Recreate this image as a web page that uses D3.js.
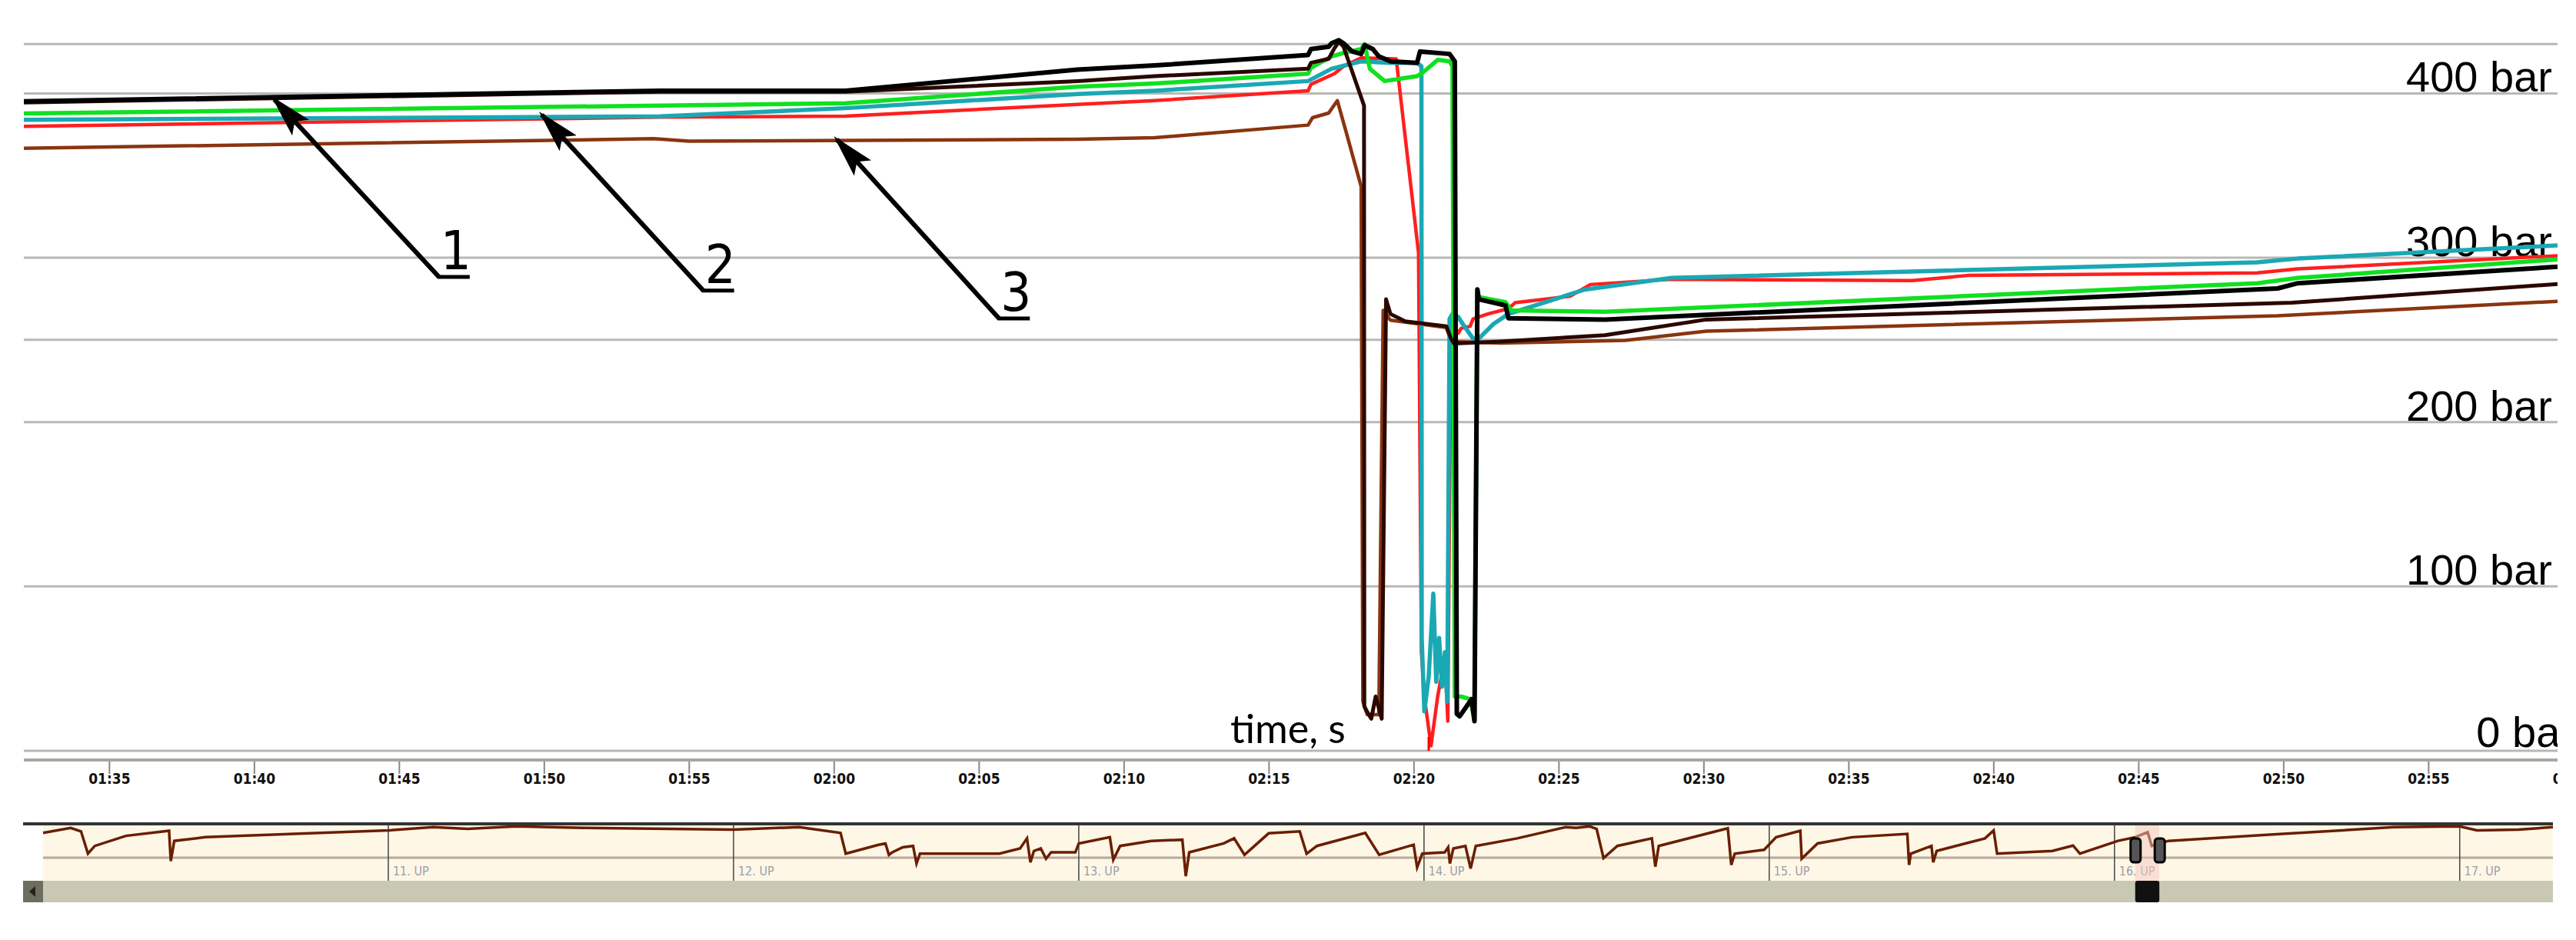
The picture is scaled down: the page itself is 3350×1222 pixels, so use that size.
<!DOCTYPE html>
<html>
<head>
<meta charset="utf-8">
<script src="https://cdn.jsdelivr.net/npm/d3@7"></script>
<style>
  body { margin: 0; background: #fff; }
  svg { display: block; }
</style>
</head>
<body>
<div class="plot"></div>
<script>
// GLOBAL VARIABLES
var w = 3350;
var h = 1222;

// pressure series, [minute, bar]
var seriesBlack = [[92.06,395.2],[114,401.6],[120.4,401.6],[128.4,414.5],[131.07,417],[136.36,423.4],[136.46,427],[137.07,428.4],[137.17,430.5],[137.42,432.3],[137.58,430.5],[137.88,425.5],[138.19,424],[138.31,429.3],[138.59,427],[138.8,422.5],[139.2,419.5],[140.12,418.6],[140.22,425.5],[141.24,424],[141.42,419.5],[141.49,22.5],[141.59,21],[142.0,31.4],[142.1,18],[142.2,280.7],[142.25,274.7],[143.17,271],[143.27,263.2],[146.6,262.4],[169.8,281.3],[170.5,284.5],[179.46,294.5]];
var seriesDark = [[92.06,394.5],[114,401],[120.4,401],[128.4,407.4],[131.07,410.5],[136.36,415],[136.46,418.6],[137.07,421],[137.27,427.5],[137.42,431.4],[137.58,428.5],[138.29,392.6],[138.3,27],[138.39,24],[138.54,19.5],[138.69,33],[138.9,19.5],[139.05,274.7],[139.2,265.8],[139.71,261.3],[141.13,258.3],[141.29,250.8],[141.39,247.8],[143,249],[146.6,252.9],[150.1,262.4],[170.3,272.6],[179.46,284]];
var seriesBrown = [[92.06,366.6],[113.8,372.4],[115,370.9],[128.4,372.1],[131.07,373],[136.36,380.7],[136.51,385.2],[137.07,388],[137.37,395.6],[137.68,376],[138.19,343.4],[138.25,30],[138.4,22],[138.8,22],[138.95,268],[139.2,262],[141.13,257.5],[141.3,249],[143,248.1],[147.3,249.7],[150.1,255.3],[169.8,264.7],[179.46,273.5]];
var seriesGreen = [[92.06,387.8],[120.4,394],[128.4,404],[131.07,406],[136.36,412],[136.46,415.6],[137.17,422.5],[137.58,424.6],[138.19,427],[138.31,430],[138.49,415],[139,407.5],[140.12,410.5],[140.27,412],[140.83,420.4],[141.24,419.5],[141.34,416.5],[141.42,33],[141.64,33],[141.95,31.4],[142.1,19.5],[142.2,280.7],[142.25,276],[143.17,273],[143.37,268],[146.6,267.1],[169.1,284.5],[170.5,287.7],[179.46,299]];
var seriesCyan = [[92.06,383.9],[114,386],[120.4,391],[128.4,399.6],[131.07,401.6],[136.36,407.5],[137.17,415],[138.19,419.5],[139.2,418.6],[140.12,418.6],[140.27,416.5],[140.28,68.7],[140.37,24],[140.52,45],[140.68,95.6],[140.78,42],[140.88,68.7],[140.98,39],[141.08,60],[141.16,30],[141.24,262.8],[141.34,265.8],[141.54,264],[141.69,259.8],[142.05,250.8],[142.25,250.8],[142.76,259.8],[143.27,265.8],[145.9,280.6],[148.9,287.7],[169.1,297.2],[170.5,299.5],[179.46,307.5]];
var seriesRed = [[92.06,380],[114,385.5],[120.4,386.2],[128.4,393.3],[131.07,395.6],[136.36,401.6],[136.46,405.5],[137.27,412],[137.58,416.5],[138.19,421.6],[139.4,421],[140.17,303],[140.27,60],[140.37,33],[140.6,3],[140.83,33],[141.08,57],[141.18,18],[141.29,262.8],[141.54,254],[141.64,257],[141.95,258.3],[142.05,262.8],[142.56,265.8],[143.27,269],[143.5,272.6],[145.4,276.6],[146.1,283.7],[148.9,286.9],[157.2,286.1],[159.1,289.2],[169.1,290.8],[170.5,293.2],[179.46,301.2]];

var gridValues = [0, 100, 200, 250, 300, 400, 430];
var barLabels = [400, 300, 200, 100, 0];
var timeTicks = [95,100,105,110,115,120,125,130,135,140,145,150,155,160,165,170,175,180];

// arrows: tip [min, bar], tail [min, bar]
var arrowNames = ["1", "2", "3"];
var arrowTips = [[100.7,396.4],[109.93,387],[120.1,372]];
var arrowTails = [[106.38,288.3],[115.5,280],[125.7,263]];

// overview strip: [UP index, bar]
var upMarks = [11, 12, 13, 14, 15, 16, 17];
var overview = [[10.00,387],[10.08,413],[10.11,395],[10.13,280],[10.15,320],[10.24,372],[10.365,398],[10.37,242],[10.38,346],[10.47,365],[11.00,400],[11.13,417],[11.23,408],[11.37,421],[11.565,413],[12.00,404],[12.19,417],[12.31,387],[12.325,280],[12.42,326],[12.44,333],[12.45,274],[12.46,287],[12.49,313],[12.52,320],[12.53,229],[12.54,280],[12.77,280],[12.83,307],[12.85,359],[12.86,235],[12.87,294],[12.89,307],[12.905,254],[12.92,287],[12.99,287],[13.00,333],[13.09,365],[13.10,248],[13.12,320],[13.21,346],[13.30,352],[13.31,164],[13.32,287],[13.42,333],[13.45,359],[13.48,274],[13.55,385],[13.64,395],[13.66,280],[13.69,320],[13.83,387],[13.87,274],[13.97,326],[13.98,209],[13.995,280],[14.06,287],[14.07,313],[14.075,229],[14.085,307],[14.12,320],[14.135,203],[14.15,320],[14.27,359],[14.41,417],[14.44,413],[14.48,421],[14.50,408],[14.52,257],[14.56,320],[14.66,359],[14.67,213],[14.68,320],[14.88,411],[14.89,222],[14.90,280],[14.985,300],[15.02,365],[15.09,398],[15.094,254],[15.14,333],[15.24,365],[15.40,382],[15.405,222],[15.41,280],[15.47,320],[15.475,235],[15.485,294],[15.625,359],[15.65,400],[15.66,280],[15.82,294],[15.88,322],[15.90,280],[16.01,346],[16.06,365],[16.096,391],[16.108,320],[16.13,333],[16.156,346],[16.45,378],[16.81,417],[17.00,421],[17.05,400],[17.17,404],[17.27,417]];
var selection = [16.06, 16.13];

// SCALES
var xScale = d3.scaleLinear().domain([92.06, 179.46]).range([31, 3326]);
var yScale = d3.scaleLinear().domain([0, 430]).range([976, 57.3]);
var oxScale = d3.scaleLinear().domain([10, 17.27]).range([56, 3320]);
var oyScale = d3.scaleLinear().domain([160, 430]).range([1140, 1072]);

var svg = d3.select(".plot").append("svg").attr("width", w).attr("height", h);
var defs = svg.append("defs");
defs.append("clipPath").attr("id", "plotclip")
  .append("rect").attr("x", 31).attr("y", 0).attr("width", 3295).attr("height", 1060);

// GRID
svg.selectAll(".grid")
  .data(gridValues)
  .enter()
  .append("line")
  .attr("x1", 31).attr("x2", 3326)
  .attr("y1", function (d) {return yScale(d)})
  .attr("y2", function (d) {return yScale(d)})
  .attr("stroke", "#b8b8b4")
  .attr("stroke-width", 3);

// bar labels
svg.selectAll(".barlabel")
  .data(barLabels)
  .enter()
  .append("text")
  .attr("x", function (d) {return d === 0 ? 3348 : 3319})
  .attr("y", function (d) {return yScale(d) - (d === 0 ? 5 : 2)})
  .attr("text-anchor", "end")
  .attr("font-family", "Liberation Sans, Arial, sans-serif")
  .attr("font-size", "56px")
  .attr("fill", "#000")
  .attr("clip-path", "url(#plotclip)")
  .text(function (d) {return d + " bar"});

// LINES
var line = d3.line()
  .x(function (d) {return xScale(d[0])})
  .y(function (d) {return yScale(d[1])});

var series = [
  {data: seriesBrown, color: "#8a3410", width: 4.5},
  {data: seriesRed, color: "#ff1f1f", width: 4.5},
  {data: seriesCyan, color: "#1aa8b4", width: 5.5},
  {data: seriesGreen, color: "#10e020", width: 5.5},
  {data: seriesDark, color: "#2a0800", width: 5},
  {data: seriesBlack, color: "#000000", width: 6}
];
svg.selectAll(".series")
  .data(series)
  .enter()
  .append("path")
  .attr("class", "series")
  .attr("clip-path", "url(#plotclip)")
  .attr("d", function (d) {return line(d.data)})
  .attr("fill", "none")
  .attr("stroke", function (d) {return d.color})
  .attr("stroke-width", function (d) {return d.width})
  .attr("stroke-linejoin", "round");

// ARROWS
defs.append("marker")
  .attr("id", "head")
  .attr("viewBox", "0 0 10 10")
  .attr("refX", 9).attr("refY", 5)
  .attr("markerWidth", 56).attr("markerHeight", 30)
  .attr("markerUnits", "userSpaceOnUse")
  .attr("orient", "auto")
  .attr("preserveAspectRatio", "none")
  .append("path").attr("d", "M0,0 L10,5 L0,10 L2,5 z").attr("fill", "#000");

var arrows = svg.selectAll(".arrow")
  .data(arrowNames)
  .enter()
  .append("g");
arrows.append("line")
  .attr("x1", function (d, i) {return xScale(arrowTails[i][0])})
  .attr("y1", function (d, i) {return yScale(arrowTails[i][1])})
  .attr("x2", function (d, i) {return xScale(arrowTips[i][0])})
  .attr("y2", function (d, i) {return yScale(arrowTips[i][1])})
  .attr("stroke", "#000")
  .attr("stroke-width", 6)
  .attr("marker-end", "url(#head)");
arrows.append("text")
  .attr("x", function (d, i) {return xScale(arrowTails[i][0]) + 2})
  .attr("y", function (d, i) {return yScale(arrowTails[i][1]) - 10})
  .attr("font-family", "DejaVu Sans Condensed, DejaVu Sans, sans-serif")
  .attr("font-size", "70px")
  .text(function (d) {return d});
arrows.append("line")
  .attr("x1", function (d, i) {return xScale(arrowTails[i][0]) - 2})
  .attr("x2", function (d, i) {return xScale(arrowTails[i][0]) + 40})
  .attr("y1", function (d, i) {return yScale(arrowTails[i][1])})
  .attr("y2", function (d, i) {return yScale(arrowTails[i][1])})
  .attr("stroke", "#000")
  .attr("stroke-width", 5);

// axis title + cursor
svg.append("text")
  .attr("x", 1600).attr("y", 966)
  .attr("font-family", "Lato, sans-serif")
  .attr("font-size", "52px")
  .text("time, s");
svg.append("line")
  .attr("x1", 1858).attr("x2", 1858).attr("y1", 958).attr("y2", 976)
  .attr("stroke", "#f00").attr("stroke-width", 3);

// TIME AXIS
var axisG = svg.append("g").attr("clip-path", "url(#plotclip)");
axisG.append("line").attr("x1", 31).attr("x2", 3326).attr("y1", 988).attr("y2", 988)
  .attr("stroke", "#a8a8a0").attr("stroke-width", 4);
var xAxis = d3.axisBottom(xScale)
  .tickValues(timeTicks)
  .tickSize(16)
  .tickFormat(function (d) {
    return String(Math.floor(d / 60)).padStart(2, "0") + ":" + String(d % 60).padStart(2, "0");
  });
axisG.append("g")
  .attr("transform", "translate(0,990)")
  .call(xAxis)
  .call(function (g) {g.select(".domain").remove()})
  .call(function (g) {g.selectAll(".tick line").attr("stroke", "#888").attr("stroke-width", 2)})
  .call(function (g) {
    g.selectAll(".tick text")
      .attr("font-family", "DejaVu Sans Condensed, sans-serif")
      .attr("font-weight", "bold")
      .attr("font-size", "19px")
      .attr("fill", "#111")
      .attr("dy", "0.5em");
  });

// OVERVIEW STRIP
svg.append("rect").attr("x", 56).attr("y", 1073).attr("width", 3264).attr("height", 72).attr("fill", "#fff7e6");
svg.append("rect").attr("x", 56).attr("y", 1145).attr("width", 3264).attr("height", 28).attr("fill", "#c9c8b3");
svg.append("rect").attr("x", 30).attr("y", 1145).attr("width", 26).attr("height", 28).attr("fill", "#6e6e60");
svg.append("path").attr("d", "M46,1152 L38,1159 L46,1166 z").attr("fill", "#222");
svg.append("line").attr("x1", 30).attr("x2", 3320).attr("y1", 1071).attr("y2", 1071)
  .attr("stroke", "#333").attr("stroke-width", 4);
svg.append("line").attr("x1", 56).attr("x2", 3320).attr("y1", 1115).attr("y2", 1115)
  .attr("stroke", "#b9a99a").attr("stroke-width", 3);

svg.selectAll(".upline")
  .data(upMarks)
  .enter()
  .append("line")
  .attr("x1", function (d) {return oxScale(d)})
  .attr("x2", function (d) {return oxScale(d)})
  .attr("y1", 1073).attr("y2", 1145)
  .attr("stroke", "#444").attr("stroke-width", 1.5);
svg.selectAll(".uplabel")
  .data(upMarks)
  .enter()
  .append("text")
  .attr("x", function (d) {return oxScale(d) + 6})
  .attr("y", 1138)
  .attr("font-family", "DejaVu Sans Condensed, sans-serif")
  .attr("font-size", "16px")
  .attr("fill", "#98a0a8")
  .text(function (d) {return d + ". UP"});

var oline = d3.line()
  .x(function (d) {return oxScale(d[0])})
  .y(function (d) {return oyScale(d[1])});
svg.append("path")
  .attr("d", oline(overview))
  .attr("fill", "none")
  .attr("stroke", "#6a1e02")
  .attr("stroke-width", 3.5);

// selection window
svg.append("rect")
  .attr("x", oxScale(selection[0])).attr("y", 1073)
  .attr("width", oxScale(selection[1]) - oxScale(selection[0])).attr("height", 72)
  .attr("fill", "#f4c8c0").attr("opacity", 0.5);
svg.selectAll(".handle")
  .data(selection)
  .enter()
  .append("rect")
  .attr("x", function (d) {return oxScale(d) - 6})
  .attr("y", 1090).attr("width", 13).attr("height", 31).attr("rx", 4)
  .attr("fill", "#555").attr("stroke", "#000").attr("stroke-width", 3);
svg.append("rect")
  .attr("x", oxScale(selection[0])).attr("y", 1145)
  .attr("width", oxScale(selection[1]) - oxScale(selection[0])).attr("height", 28)
  .attr("fill", "#111").attr("rx", 3);
</script>
</body>
</html>
